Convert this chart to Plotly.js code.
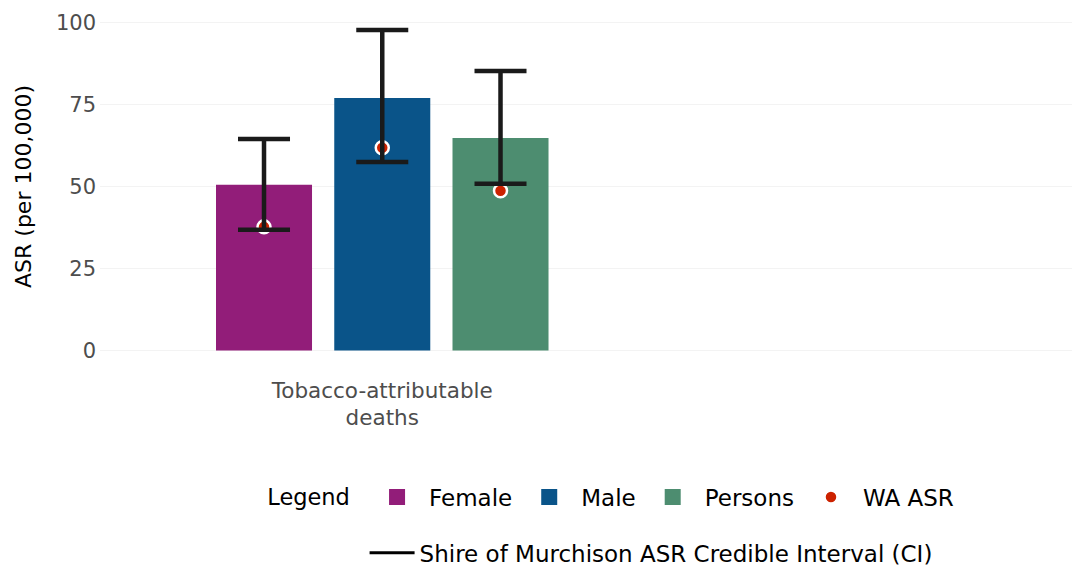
<!DOCTYPE html>
<html>
<head>
<meta charset="utf-8">
<script src="https://cdn.plot.ly/plotly-3.0.1.min.js"></script>
<style>html,body{margin:0;padding:0;background:#fff;}#chart{width:1072px;height:570px;}</style>
</head>
<body>
<div id="chart"></div>
<script>
// ---- data ----
var sexes = ["Female", "Male", "Persons"];
var sexColors = ["#921D79", "#0A5489", "#4D8D70"];
var asr = [50.5, 77.0, 64.8];          // Shire of Murchison ASR
var ciLower = [36.8, 57.5, 50.8];
var ciUpper = [64.5, 97.7, 85.2];
var waAsr = [37.7, 61.8, 48.7];        // WA ASR
var categoryLabel = "Tobacco-attributable<br>deaths";
var yTicks = [0, 25, 50, 75, 100];

var idx = sexes.map(function (s, i) { return i; });
var centre = idx.reduce(function (a, b) { return a + b; }, 0) / idx.length;

var FONT = "DejaVu Sans, Liberation Sans, Arial, sans-serif";

var traces = [];
// bars
sexes.forEach(function (s, i) {
  traces.push({
    type: "bar", x: [idx[i]], y: [asr[i]], width: 0.812,
    marker: { color: sexColors[i], line: { width: 0 } },
    name: s, showlegend: false, hoverinfo: "skip"
  });
});
// legend proxies for bars (square symbols)
sexes.forEach(function (s, i) {
  traces.push({
    type: "scatter", mode: "markers", x: [null], y: [null],
    marker: { symbol: "square", size: 16, color: sexColors[i] },
    name: s, legend: "legend", hoverinfo: "skip"
  });
});
// WA ASR dots
traces.push({
  type: "scatter", mode: "markers", x: idx, y: waAsr,
  marker: { color: "#CC2200", size: 13, line: { color: "#ffffff", width: 2.5 } },
  name: "WA ASR", legend: "legend", hoverinfo: "skip"
});
// credible interval error bars (drawn above dots)
traces.push({
  type: "scatter", mode: "markers", x: idx, y: asr,
  marker: { opacity: 0, size: 1 },
  error_y: {
    type: "data", symmetric: false,
    array: ciUpper.map(function (u, i) { return u - asr[i]; }),
    arrayminus: ciLower.map(function (l, i) { return asr[i] - l; }),
    color: "#1A1A1A", thickness: 4.5, width: 26
  },
  showlegend: false, hoverinfo: "skip"
});
// legend proxy for CI line
traces.push({
  type: "scatter", mode: "lines", x: [null], y: [null],
  line: { color: "#000000", width: 3 },
  name: "Shire of Murchison ASR Credible Interval (CI)", legend: "legend2", hoverinfo: "skip"
});

var layout = {
  width: 1072, height: 570,
  margin: { l: 100, r: 0, t: 6, b: 203 },
  paper_bgcolor: "#ffffff", plot_bgcolor: "#ffffff",
  font: { family: FONT, color: "#000" },
  showlegend: true,
  xaxis: {
    range: [-1.387, 6.833], tickmode: "array", tickvals: [centre], ticktext: [categoryLabel],
    showgrid: false, zeroline: false, showline: false, ticks: "",
    tickfont: { size: 21.5, color: "#4D4D4D" }, ticklabelstandoff: 8, fixedrange: true
  },
  yaxis: {
    range: [-5, 105], tickmode: "array", tickvals: yTicks,
    showgrid: true, gridcolor: "#F3F3F3", gridwidth: 1, zeroline: false, showline: false, ticks: "",
    tickfont: { size: 21, color: "#4D4D4D" }, ticklabelstandoff: 3,
    title: { text: "ASR (per 100,000)", font: { size: 22, color: "#000" }, standoff: 18 },
    fixedrange: true
  },
  legend: {
    orientation: "h", xref: "paper", x: 0.170, xanchor: "left",
    yref: "container", y: 0.128, yanchor: "middle",
    title: { text: "Legend ", side: "left", font: { size: 22.5, color: "#000" } },
    font: { size: 23, color: "#000" }, itemwidth: 54, bgcolor: "rgba(0,0,0,0)"
  },
  legend2: {
    orientation: "h", xref: "paper", x: 0.2722, xanchor: "left",
    yref: "container", y: 0.030, yanchor: "middle",
    font: { size: 23, color: "#000" }, itemwidth: 45, bgcolor: "rgba(0,0,0,0)"
  }
};

Plotly.newPlot("chart", traces, layout, { displayModeBar: false, staticPlot: true });
</script>
</body>
</html>
